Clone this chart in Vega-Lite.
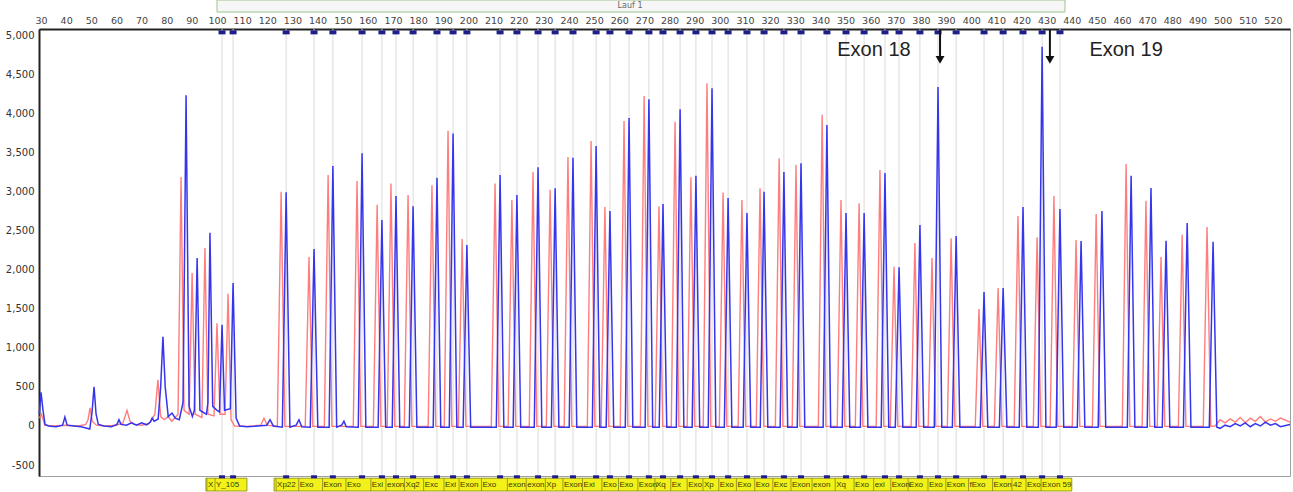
{
  "$schema": "https://vega.github.io/schema/vega-lite/v6.json",
  "autosize": {"type": "none"},
  "padding": {"left": 39, "top": 29, "right": 3, "bottom": 16},
  "width": 1251,
  "height": 447,
  "background": "white",
  "config": {"view": {"stroke": "#a0a0a0", "strokeWidth": 1}},
  "resolve": {"axis": {"x": "independent", "y": "independent"}},
  "datasets": {
    "probes": [
      {"s":102.0,"label":"X","start":96.0},{"s":106.4,"label":"Y_105","start":99.2},
      {"s":127.5,"label":"Xp22","start":123.5},{"s":138.6,"label":"Exo","start":132.5},
      {"s":146.1,"label":"Exon","start":142.0},{"s":157.7,"label":"Exo","start":151.3},
      {"s":165.6,"label":"Exi","start":161.2},{"s":171.2,"label":"exon","start":167.2},
      {"s":178.0,"label":"Xq2","start":174.6},{"s":187.5,"label":"Exc","start":182.2},
      {"s":193.9,"label":"Exi","start":190.3},{"s":199.4,"label":"Exon","start":196.3},
      {"s":212.6,"label":"Exo","start":205.2},{"s":219.3,"label":"exon","start":215.5},
      {"s":227.7,"label":"exon","start":223.0},{"s":234.5,"label":"Xp","start":230.6},
      {"s":241.6,"label":"Exon","start":237.6},{"s":250.8,"label":"Exi","start":245.4},
      {"s":256.3,"label":"Exo","start":253.1},{"s":263.9,"label":"Exo","start":259.7},
      {"s":271.8,"label":"Exon","start":267.4},{"s":277.4,"label":"Xq","start":274.2},
      {"s":284.2,"label":"Ex","start":280.5},{"s":290.5,"label":"Exo","start":287.0},
      {"s":296.9,"label":"Xp","start":293.3},{"s":303.3,"label":"Exo","start":299.6},
      {"s":310.8,"label":"Exo","start":306.6},{"s":317.6,"label":"Exo","start":313.9},
      {"s":325.5,"label":"Exc","start":321.1},{"s":332.3,"label":"Exon","start":328.3},
      {"s":342.6,"label":"exon","start":336.7},{"s":350.2,"label":"Xq","start":345.9},
      {"s":357.4,"label":"Exo","start":353.4},{"s":365.7,"label":"exi","start":361.2},
      {"s":371.3,"label":"Exon","start":368.0},{"s":379.6,"label":"Exo","start":374.9},
      {"s":386.8,"label":"Exo","start":382.8},{"s":394.0,"label":"Exon","start":389.9},
      {"s":405.1,"label":"fExo","start":398.9},{"s":412.7,"label":"Exon","start":408.5},
      {"s":420.6,"label":"42","start":416.2},{"s":428.2,"label":"Exo","start":421.8},
      {"s":435.3,"label":"Exon 59","start":427.8}
    ],
    "blue": [
      {"s":29.3,"rfu":150},{"s":30.0,"rfu":430},{"s":30.8,"rfu":200},{"s":31.6,"rfu":20},{"s":33,"rfu":0},{"s":36,"rfu":-10},
      {"s":38.6,"rfu":10},{"s":39.5,"rfu":115},{"s":40.4,"rfu":10},{"s":43,"rfu":0},{"s":46,"rfu":-10},{"s":49.4,"rfu":-40},
      {"s":50.3,"rfu":180},{"s":51.1,"rfu":500},{"s":51.9,"rfu":150},{"s":52.8,"rfu":20},{"s":55,"rfu":0},{"s":58,"rfu":-10},
      {"s":60.2,"rfu":20},{"s":61,"rfu":80},{"s":61.8,"rfu":20},{"s":64,"rfu":10},{"s":66,"rfu":40},{"s":68,"rfu":10},
      {"s":70,"rfu":40},{"s":72,"rfu":15},{"s":73.5,"rfu":50},{"s":74.2,"rfu":100},{"s":75,"rfu":60},{"s":76.6,"rfu":90},
      {"s":77.6,"rfu":500},{"s":78.5,"rfu":1140},{"s":79.4,"rfu":500},{"s":80.6,"rfu":120},{"s":82.1,"rfu":165},{"s":83.4,"rfu":100},
      {"s":85,"rfu":80},{"s":86.5,"rfu":300},{"s":87.7,"rfu":4230},{"s":88.9,"rfu":250},{"s":90.2,"rfu":120},{"s":91,"rfu":200},
      {"s":92.1,"rfu":2150},{"s":93.2,"rfu":200},{"s":95.8,"rfu":150},{"s":96.4,"rfu":300},{"s":97.2,"rfu":2470},{"s":98.3,"rfu":250},
      {"s":100,"rfu":200},{"s":101,"rfu":180},{"s":102,"rfu":1295},{"s":103,"rfu":200},{"s":105.3,"rfu":220},{"s":106.4,"rfu":1830},
      {"s":107.6,"rfu":100},{"s":109,"rfu":0},{"s":112,"rfu":-10},{"s":115,"rfu":-5},{"s":119.8,"rfu":10},{"s":121.1,"rfu":80},
      {"s":122.4,"rfu":0},
      {"s":126.0,"rfu":-15},{"s":127.5,"rfu":2990},{"s":129.0,"rfu":-15},{"s":131.5,"rfu":10},{"s":132.6,"rfu":80},{"s":133.7,"rfu":-10},
      {"s":137.1,"rfu":-15},{"s":138.6,"rfu":2265},{"s":140.1,"rfu":-15},
      {"s":144.6,"rfu":-15},{"s":146.1,"rfu":3325},{"s":147.6,"rfu":-15},{"s":149.6,"rfu":10},{"s":150.5,"rfu":60},{"s":151.4,"rfu":-10},
      {"s":156.2,"rfu":-15},{"s":157.7,"rfu":3490},{"s":159.2,"rfu":-15},
      {"s":164.1,"rfu":-15},{"s":165.6,"rfu":2635},{"s":167.1,"rfu":-15},
      {"s":169.7,"rfu":-15},{"s":171.2,"rfu":2940},{"s":172.7,"rfu":-15},
      {"s":176.5,"rfu":-15},{"s":178.0,"rfu":2810},{"s":179.5,"rfu":-15},
      {"s":186.0,"rfu":-15},{"s":187.5,"rfu":3175},{"s":189.0,"rfu":-15},
      {"s":192.4,"rfu":-15},{"s":193.9,"rfu":3740},{"s":195.4,"rfu":-15},
      {"s":197.9,"rfu":-15},{"s":199.4,"rfu":2315},{"s":200.9,"rfu":-15},
      {"s":211.1,"rfu":-15},{"s":212.6,"rfu":3210},{"s":214.1,"rfu":-15},
      {"s":217.8,"rfu":-15},{"s":219.3,"rfu":2955},{"s":220.8,"rfu":-15},
      {"s":226.2,"rfu":-15},{"s":227.7,"rfu":3310},{"s":229.2,"rfu":-15},
      {"s":233.0,"rfu":-15},{"s":234.5,"rfu":3040},{"s":236.0,"rfu":-15},
      {"s":240.1,"rfu":-15},{"s":241.6,"rfu":3430},{"s":243.1,"rfu":-15},
      {"s":249.3,"rfu":-15},{"s":250.8,"rfu":3580},{"s":252.3,"rfu":-15},
      {"s":254.8,"rfu":-15},{"s":256.3,"rfu":2750},{"s":257.8,"rfu":-15},
      {"s":262.4,"rfu":-15},{"s":263.9,"rfu":3940},{"s":265.4,"rfu":-15},
      {"s":270.3,"rfu":-15},{"s":271.8,"rfu":4180},{"s":273.3,"rfu":-15},
      {"s":275.9,"rfu":-15},{"s":277.4,"rfu":2840},{"s":278.9,"rfu":-15},
      {"s":282.7,"rfu":-15},{"s":284.2,"rfu":4050},{"s":285.7,"rfu":-15},
      {"s":289.0,"rfu":-15},{"s":290.5,"rfu":3200},{"s":292.0,"rfu":-15},
      {"s":295.4,"rfu":-15},{"s":296.9,"rfu":4320},{"s":298.4,"rfu":-15},
      {"s":301.8,"rfu":-15},{"s":303.3,"rfu":2915},{"s":304.8,"rfu":-15},
      {"s":309.3,"rfu":-15},{"s":310.8,"rfu":2725},{"s":312.3,"rfu":-15},
      {"s":316.1,"rfu":-15},{"s":317.6,"rfu":2995},{"s":319.1,"rfu":-15},
      {"s":324.0,"rfu":-15},{"s":325.5,"rfu":3250},{"s":327.0,"rfu":-15},
      {"s":330.8,"rfu":-15},{"s":332.3,"rfu":3360},{"s":333.8,"rfu":-15},
      {"s":341.1,"rfu":-15},{"s":342.6,"rfu":3850},{"s":344.1,"rfu":-15},
      {"s":348.7,"rfu":-15},{"s":350.2,"rfu":2725},{"s":351.7,"rfu":-15},
      {"s":355.9,"rfu":-15},{"s":357.4,"rfu":2725},{"s":358.9,"rfu":-15},
      {"s":364.2,"rfu":-15},{"s":365.7,"rfu":3235},{"s":367.2,"rfu":-15},
      {"s":369.8,"rfu":-15},{"s":371.3,"rfu":2030},{"s":372.8,"rfu":-15},
      {"s":378.1,"rfu":-15},{"s":379.6,"rfu":2570},{"s":381.1,"rfu":-15},
      {"s":385.3,"rfu":-15},{"s":386.8,"rfu":4335},{"s":388.3,"rfu":-15},
      {"s":392.5,"rfu":-15},{"s":394.0,"rfu":2430},{"s":395.5,"rfu":-15},
      {"s":403.6,"rfu":-15},{"s":405.1,"rfu":1715},{"s":406.6,"rfu":-15},
      {"s":411.2,"rfu":-15},{"s":412.7,"rfu":1765},{"s":414.2,"rfu":-15},
      {"s":419.1,"rfu":-15},{"s":420.6,"rfu":2800},{"s":422.1,"rfu":-15},
      {"s":426.7,"rfu":-15},{"s":428.2,"rfu":4850},{"s":429.7,"rfu":-15},
      {"s":433.8,"rfu":-15},{"s":435.3,"rfu":2775},{"s":436.8,"rfu":-15},
      {"s":442.2,"rfu":-15},{"s":443.7,"rfu":2365},{"s":445.2,"rfu":-15},
      {"s":450.5,"rfu":-15},{"s":452.0,"rfu":2750},{"s":453.5,"rfu":-15},
      {"s":462.1,"rfu":-15},{"s":463.6,"rfu":3200},{"s":465.1,"rfu":-15},
      {"s":470.0,"rfu":-15},{"s":471.5,"rfu":3045},{"s":473.0,"rfu":-15},
      {"s":476.0,"rfu":-15},{"s":477.5,"rfu":2370},{"s":479.0,"rfu":-15},
      {"s":484.4,"rfu":-15},{"s":485.9,"rfu":2595},{"s":487.4,"rfu":-15},
      {"s":494.7,"rfu":-15},{"s":496.2,"rfu":2355},{"s":497.7,"rfu":-15},
      {"s":499,"rfu":-30},{"s":501,"rfu":10},{"s":503,"rfu":-10},{"s":505,"rfu":30},{"s":507,"rfu":0},{"s":509,"rfu":40},
      {"s":511,"rfu":-10},{"s":513,"rfu":30},{"s":515,"rfu":0},{"s":517,"rfu":50},{"s":519,"rfu":10},{"s":521,"rfu":30},
      {"s":523,"rfu":-10},{"s":526.8,"rfu":20}
    ],
    "red": [
      {"s":29.3,"rfu":100},{"s":30.2,"rfu":150},{"s":31.5,"rfu":10},{"s":35,"rfu":0},{"s":40,"rfu":10},{"s":45,"rfu":0},
      {"s":47.8,"rfu":20},{"s":48.7,"rfu":80},{"s":49.5,"rfu":230},{"s":50.4,"rfu":60},{"s":52,"rfu":10},{"s":56,"rfu":0},
      {"s":60,"rfu":10},{"s":62.6,"rfu":40},{"s":64.2,"rfu":200},{"s":65.4,"rfu":60},{"s":67,"rfu":20},{"s":70,"rfu":10},
      {"s":73,"rfu":30},{"s":75.3,"rfu":150},{"s":76.5,"rfu":590},{"s":77.6,"rfu":120},{"s":79,"rfu":80},{"s":80.6,"rfu":120},
      {"s":82,"rfu":60},{"s":84.5,"rfu":150},{"s":85.7,"rfu":3185},{"s":86.9,"rfu":200},{"s":88.9,"rfu":150},{"s":90.1,"rfu":1955},
      {"s":91.3,"rfu":150},{"s":94,"rfu":110},{"s":95.2,"rfu":2275},{"s":96.4,"rfu":150},{"s":98.8,"rfu":130},{"s":100,"rfu":1315},
      {"s":101.2,"rfu":150},{"s":103.2,"rfu":150},{"s":104.4,"rfu":1690},{"s":105.6,"rfu":80},{"s":107,"rfu":0},{"s":112,"rfu":-5},
      {"s":117.4,"rfu":10},{"s":118.7,"rfu":100},{"s":120,"rfu":10},
      {"s":124.0,"rfu":-5},{"s":125.5,"rfu":2995},{"s":127.0,"rfu":-5},
      {"s":135.1,"rfu":-5},{"s":136.6,"rfu":2160},{"s":138.1,"rfu":-5},
      {"s":142.7,"rfu":-5},{"s":144.2,"rfu":3210},{"s":145.7,"rfu":-5},
      {"s":154.2,"rfu":-5},{"s":155.7,"rfu":3135},{"s":157.2,"rfu":-5},
      {"s":162.2,"rfu":-5},{"s":163.7,"rfu":2830},{"s":165.2,"rfu":-5},
      {"s":167.7,"rfu":-5},{"s":169.2,"rfu":3100},{"s":170.7,"rfu":-5},
      {"s":174.5,"rfu":-5},{"s":176.0,"rfu":2955},{"s":177.5,"rfu":-5},
      {"s":184.0,"rfu":-5},{"s":185.5,"rfu":3080},{"s":187.0,"rfu":-5},
      {"s":190.4,"rfu":-5},{"s":191.9,"rfu":3775},{"s":193.4,"rfu":-5},
      {"s":196.0,"rfu":-5},{"s":197.5,"rfu":2390},{"s":199.0,"rfu":-5},
      {"s":209.1,"rfu":-5},{"s":210.6,"rfu":3100},{"s":212.1,"rfu":-5},
      {"s":215.8,"rfu":-5},{"s":217.3,"rfu":2890},{"s":218.8,"rfu":-5},
      {"s":224.2,"rfu":-5},{"s":225.7,"rfu":3250},{"s":227.2,"rfu":-5},
      {"s":231.0,"rfu":-5},{"s":232.5,"rfu":3020},{"s":234.0,"rfu":-5},
      {"s":238.1,"rfu":-5},{"s":239.6,"rfu":3440},{"s":241.1,"rfu":-5},
      {"s":247.3,"rfu":-5},{"s":248.8,"rfu":3645},{"s":250.3,"rfu":-5},
      {"s":252.8,"rfu":-5},{"s":254.3,"rfu":2800},{"s":255.8,"rfu":-5},
      {"s":260.4,"rfu":-5},{"s":261.9,"rfu":3900},{"s":263.4,"rfu":-5},
      {"s":268.4,"rfu":-5},{"s":269.9,"rfu":4220},{"s":271.4,"rfu":-5},
      {"s":274.3,"rfu":-5},{"s":275.8,"rfu":2810},{"s":277.3,"rfu":-5},
      {"s":280.7,"rfu":-5},{"s":282.2,"rfu":3890},{"s":283.7,"rfu":-5},
      {"s":287.0,"rfu":-5},{"s":288.5,"rfu":3180},{"s":290.0,"rfu":-5},
      {"s":293.4,"rfu":-5},{"s":294.9,"rfu":4385},{"s":296.4,"rfu":-5},
      {"s":299.8,"rfu":-5},{"s":301.3,"rfu":2985},{"s":302.8,"rfu":-5},
      {"s":307.3,"rfu":-5},{"s":308.8,"rfu":2890},{"s":310.3,"rfu":-5},
      {"s":314.5,"rfu":-5},{"s":316.0,"rfu":3040},{"s":317.5,"rfu":-5},
      {"s":322.1,"rfu":-5},{"s":323.6,"rfu":3425},{"s":325.1,"rfu":-5},
      {"s":328.8,"rfu":-5},{"s":330.3,"rfu":3340},{"s":331.8,"rfu":-5},
      {"s":339.2,"rfu":-5},{"s":340.7,"rfu":3980},{"s":342.2,"rfu":-5},
      {"s":346.7,"rfu":-5},{"s":348.2,"rfu":2890},{"s":349.7,"rfu":-5},
      {"s":353.9,"rfu":-5},{"s":355.4,"rfu":2850},{"s":356.9,"rfu":-5},
      {"s":362.2,"rfu":-5},{"s":363.7,"rfu":3275},{"s":365.2,"rfu":-5},
      {"s":367.8,"rfu":-5},{"s":369.3,"rfu":2035},{"s":370.8,"rfu":-5},
      {"s":376.1,"rfu":-5},{"s":377.6,"rfu":2340},{"s":379.1,"rfu":-5},
      {"s":382.9,"rfu":-5},{"s":384.4,"rfu":2150},{"s":385.9,"rfu":-5},
      {"s":390.5,"rfu":-5},{"s":392.0,"rfu":2400},{"s":393.5,"rfu":-5},
      {"s":401.6,"rfu":-5},{"s":403.1,"rfu":1495},{"s":404.6,"rfu":-5},
      {"s":409.2,"rfu":-5},{"s":410.7,"rfu":1765},{"s":412.2,"rfu":-5},
      {"s":417.1,"rfu":-5},{"s":418.6,"rfu":2685},{"s":420.1,"rfu":-5},
      {"s":424.7,"rfu":-5},{"s":426.2,"rfu":2415},{"s":427.7,"rfu":-5},
      {"s":431.4,"rfu":-5},{"s":432.9,"rfu":2940},{"s":434.4,"rfu":-5},
      {"s":440.2,"rfu":-5},{"s":441.7,"rfu":2380},{"s":443.2,"rfu":-5},
      {"s":448.2,"rfu":-5},{"s":449.7,"rfu":2710},{"s":451.2,"rfu":-5},
      {"s":460.1,"rfu":-5},{"s":461.6,"rfu":3350},{"s":463.1,"rfu":-5},
      {"s":468.0,"rfu":-5},{"s":469.5,"rfu":2880},{"s":471.0,"rfu":-5},
      {"s":474.0,"rfu":-5},{"s":475.5,"rfu":2160},{"s":477.0,"rfu":-5},
      {"s":482.4,"rfu":-5},{"s":483.9,"rfu":2445},{"s":485.4,"rfu":-5},
      {"s":492.3,"rfu":-5},{"s":493.8,"rfu":2545},{"s":495.3,"rfu":-5},
      {"s":497,"rfu":0},{"s":499,"rfu":80},{"s":501,"rfu":40},{"s":503,"rfu":90},{"s":505,"rfu":50},{"s":507,"rfu":110},
      {"s":509,"rfu":40},{"s":511,"rfu":100},{"s":513,"rfu":60},{"s":515,"rfu":120},{"s":517,"rfu":50},{"s":519,"rfu":90},
      {"s":521,"rfu":60},{"s":523,"rfu":100},{"s":526.8,"rfu":50}
    ]
  },
  "layer": [
    {
      "data": {"name": "probes"},
      "mark": {"type": "rule", "color": "#dadada", "strokeWidth": 1},
      "encoding": {
        "x": {"field": "s", "type": "quantitative", "scale": {"domain": [29.2, 526.8], "nice": false, "zero": false}, "axis": null}
      }
    },
    {
      "data": {"values": [{"label": "Lauf 1"}]},
      "mark": {"type": "rect", "fill": "#f6f6f6", "stroke": "#9ec48e", "strokeWidth": 1},
      "encoding": {
        "x": {"datum": 100.0, "type": "quantitative", "scale": {"domain": [29.2, 526.8], "nice": false, "zero": false}, "axis": null},
        "x2": {"datum": 437.3},
        "y": {"datum": 5449, "type": "quantitative", "scale": {"domain": [-640, 5078], "nice": false, "zero": false}, "axis": null},
        "y2": {"datum": 5295}
      }
    },
    {
      "data": {"values": [{"label": "Lauf 1"}]},
      "mark": {"type": "text", "fontSize": 8, "font": "DejaVu Sans", "color": "#666", "baseline": "middle"},
      "encoding": {
        "x": {"datum": 264.3, "type": "quantitative", "scale": {"domain": [29.2, 526.8], "nice": false, "zero": false}, "axis": null},
        "y": {"datum": 5372, "type": "quantitative", "scale": {"domain": [-640, 5078], "nice": false, "zero": false}, "axis": null},
        "text": {"field": "label"}
      }
    },
    {
      "data": {"name": "red"},
      "mark": {"type": "line", "color": "#ff6f6f", "strokeWidth": 1.4, "opacity": 0.9},
      "encoding": {
        "x": {"field": "s", "type": "quantitative", "scale": {"domain": [29.2, 526.8], "nice": false, "zero": false}, "axis": null},
        "y": {"field": "rfu", "type": "quantitative", "scale": {"domain": [-640, 5078], "nice": false, "zero": false}, "axis": null}
      }
    },
    {
      "data": {"name": "blue"},
      "mark": {"type": "line", "color": "#3535ee", "strokeWidth": 1.5},
      "encoding": {
        "x": {
          "field": "s", "type": "quantitative",
          "scale": {"domain": [29.2, 526.8], "nice": false, "zero": false},
          "axis": {
            "orient": "top", "title": null, "grid": false, "ticks": false,
            "values": [30,40,50,60,70,80,90,100,110,120,130,140,150,160,170,180,190,200,210,220,230,240,250,260,270,280,290,300,310,320,330,340,350,360,370,380,390,400,410,420,430,440,450,460,470,480,490,500,510,520],
            "labelPadding": 4, "labelFontSize": 9.5, "labelFont": "DejaVu Sans", "labelColor": "#444",
            "labelFlush": false, "labelOverlap": false,
            "domainColor": "#222", "domainWidth": 2
          }
        },
        "y": {
          "field": "rfu", "type": "quantitative",
          "scale": {"domain": [-640, 5078], "nice": false, "zero": false},
          "axis": {
            "orient": "left", "title": null, "grid": false, "ticks": false,
            "values": [-500,0,500,1000,1500,2000,2500,3000,3500,4000,4500,5000],
            "labelExpr": "replace(format(datum.value, ','), '\u2212', '-')",
            "labelPadding": 5, "labelFontSize": 10, "labelFont": "DejaVu Sans", "labelColor": "#333",
            "labelFlush": false, "labelOverlap": false,
            "domainColor": "#222", "domainWidth": 2
          }
        }
      }
    },
    {
      "data": {"name": "probes"},
      "mark": {"type": "tick", "orient": "horizontal", "size": 7, "thickness": 4, "color": "#1e1e8a", "opacity": 1},
      "encoding": {
        "x": {"field": "s", "type": "quantitative", "scale": {"domain": [29.2, 526.8], "nice": false, "zero": false}, "axis": null},
        "y": {"datum": 5035, "type": "quantitative", "scale": {"domain": [-640, 5078], "nice": false, "zero": false}, "axis": null}
      }
    },
    {
      "data": {"values": [{"a": 95.6, "b": 111.9}, {"a": 122.7, "b": 440.0}]},
      "mark": {"type": "rect", "fill": "#f2f21a", "stroke": "#9a9a20", "strokeWidth": 1},
      "encoding": {
        "x": {"field": "a", "type": "quantitative", "scale": {"domain": [29.2, 526.8], "nice": false, "zero": false}, "axis": null},
        "x2": {"field": "b"},
        "y": {"datum": -668, "type": "quantitative", "scale": {"domain": [-640, 5078], "nice": false, "zero": false}, "axis": null},
        "y2": {"datum": -832}
      }
    },
    {
      "data": {"name": "probes"},
      "mark": {"type": "rule", "color": "#9a9a20", "strokeWidth": 1},
      "encoding": {
        "x": {"field": "start", "type": "quantitative", "scale": {"domain": [29.2, 526.8], "nice": false, "zero": false}, "axis": null},
        "y": {"datum": -668, "type": "quantitative", "scale": {"domain": [-640, 5078], "nice": false, "zero": false}, "axis": null},
        "y2": {"datum": -832}
      }
    },
    {
      "data": {"name": "probes"},
      "mark": {"type": "tick", "orient": "horizontal", "size": 6, "thickness": 3, "color": "#1e1e8a", "opacity": 1},
      "encoding": {
        "x": {"field": "s", "type": "quantitative", "scale": {"domain": [29.2, 526.8], "nice": false, "zero": false}, "axis": null},
        "y": {"datum": -650, "type": "quantitative", "scale": {"domain": [-640, 5078], "nice": false, "zero": false}, "axis": null}
      }
    },
    {
      "data": {"name": "probes"},
      "mark": {"type": "text", "align": "left", "baseline": "middle", "dx": 1, "fontSize": 8, "font": "Liberation Sans", "color": "#3a3a00"},
      "encoding": {
        "x": {"field": "start", "type": "quantitative", "scale": {"domain": [29.2, 526.8], "nice": false, "zero": false}, "axis": null},
        "y": {"datum": -752, "type": "quantitative", "scale": {"domain": [-640, 5078], "nice": false, "zero": false}, "axis": null},
        "text": {"field": "label"}
      }
    },
    {
      "data": {"values": [{"s": 387.6}, {"s": 431.3}]},
      "mark": {"type": "rule", "color": "#111", "strokeWidth": 2},
      "encoding": {
        "x": {"field": "s", "type": "quantitative", "scale": {"domain": [29.2, 526.8], "nice": false, "zero": false}, "axis": null},
        "y": {"datum": 5065, "type": "quantitative", "scale": {"domain": [-640, 5078], "nice": false, "zero": false}, "axis": null},
        "y2": {"datum": 4715}
      }
    },
    {
      "data": {"values": [{"s": 387.6}, {"s": 431.3}]},
      "mark": {"type": "point", "shape": "triangle-down", "filled": true, "size": 80, "color": "#111", "opacity": 1},
      "encoding": {
        "x": {"field": "s", "type": "quantitative", "scale": {"domain": [29.2, 526.8], "nice": false, "zero": false}, "axis": null},
        "y": {"datum": 4683, "type": "quantitative", "scale": {"domain": [-640, 5078], "nice": false, "zero": false}, "axis": null}
      }
    },
    {
      "data": {"values": [{"label": "Exon 18", "s": 361.3}, {"label": "Exon 19", "s": 461.6}]},
      "mark": {"type": "text", "fontSize": 20, "font": "Liberation Sans", "color": "#222", "baseline": "middle"},
      "encoding": {
        "x": {"field": "s", "type": "quantitative", "scale": {"domain": [29.2, 526.8], "nice": false, "zero": false}, "axis": null},
        "y": {"datum": 4809, "type": "quantitative", "scale": {"domain": [-640, 5078], "nice": false, "zero": false}, "axis": null},
        "text": {"field": "label"}
      }
    }
  ]
}
